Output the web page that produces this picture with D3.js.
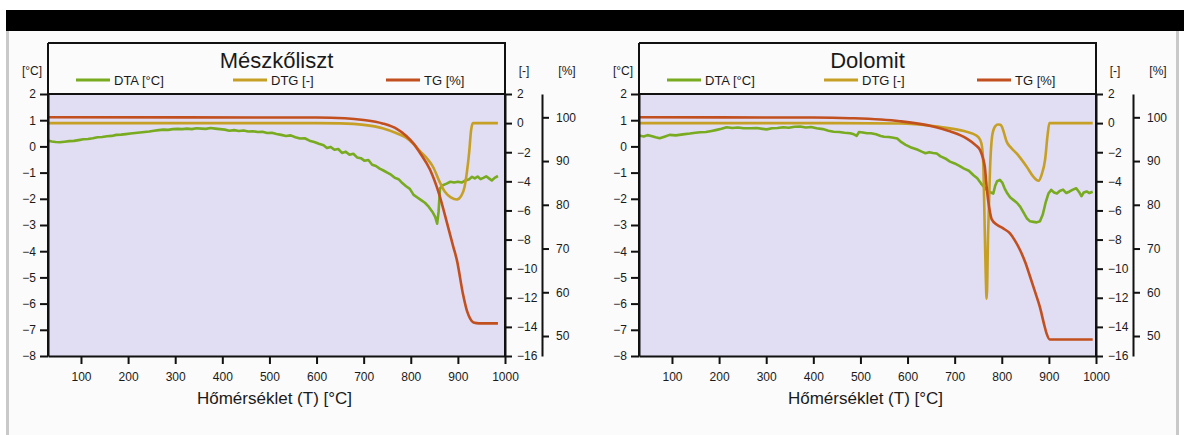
<!DOCTYPE html>
<html><head><meta charset="utf-8">
<script src="https://cdn.jsdelivr.net/npm/d3@7"></script>
<style>
html,body{margin:0;padding:0;background:#fff;}
text{font-family:"Liberation Sans",Arial,sans-serif;fill:#1a1a1a;}
</style></head>
<body><svg id="c" width="1184" height="435"></svg>
<script>
// ---------------- data ----------------
const panelTitles = ["Mészkőliszt", "Dolomit"];
const xTicks = [100,200,300,400,500,600,700,800,900,1000];
const dtaTicks = [-8,-7,-6,-5,-4,-3,-2,-1,0,1,2];
const dtgTicks = [-16,-14,-12,-10,-8,-6,-4,-2,0,2];
const tgTicks = [50,60,70,80,90,100];
const legendLabels = ["DTA [°C]", "DTG [-]", "TG [%]"];
const unitLabels = ["[°C]", "[-]", "[%]"];
const xTitle = "Hőmérséklet (T) [°C]";

// Mészkőliszt
const limeDTA = [[30,0.22],[38,0.19],[46,0.17],[55,0.16],[65,0.18],[75,0.2],[85,0.21],[95,0.24],[105,0.27],[115,0.28],[125,0.31],[135,0.35],[145,0.36],[155,0.39],[165,0.4],[175,0.44],[185,0.45],[195,0.47],[205,0.49],[215,0.51],[225,0.53],[235,0.55],[245,0.57],[255,0.6],[265,0.62],[275,0.64],[285,0.63],[295,0.66],[305,0.67],[315,0.66],[325,0.68],[335,0.66],[345,0.69],[355,0.68],[365,0.67],[375,0.7],[385,0.68],[395,0.66],[405,0.64],[415,0.6],[425,0.62],[435,0.59],[445,0.61],[455,0.57],[465,0.58],[475,0.55],[485,0.56],[495,0.51],[505,0.52],[515,0.47],[525,0.44],[535,0.4],[545,0.42],[555,0.35],[565,0.3],[575,0.31],[585,0.22],[595,0.17],[605,0.1],[615,0.04],[622,-0.06],[630,-0.02],[638,-0.13],[646,-0.1],[654,-0.25],[662,-0.2],[670,-0.32],[678,-0.28],[686,-0.42],[694,-0.45],[702,-0.55],[710,-0.52],[718,-0.7],[726,-0.75],[734,-0.85],[742,-0.92],[750,-1.0],[758,-1.08],[766,-1.2],[774,-1.25],[782,-1.4],[790,-1.52],[798,-1.62],[806,-1.85],[814,-1.95],[822,-2.05],[830,-2.15],[838,-2.3],[846,-2.5],[852,-2.7],[856,-2.95],[859,-2.5],[862,-1.6],[868,-1.48],[876,-1.42],[884,-1.35],[892,-1.38],[900,-1.35],[908,-1.38],[916,-1.3],[924,-1.25],[930,-1.16],[936,-1.22],[942,-1.15],[948,-1.25],[954,-1.2],[960,-1.14],[966,-1.22],[972,-1.3],[978,-1.2],[985,-1.13]];
const limeDTG = [[30,0],[600,0],[650,-0.02],[700,-0.12],[740,-0.35],[770,-0.7],[790,-1.0],[805,-1.4],[820,-1.95],[835,-2.45],[848,-3.05],[860,-3.95],[872,-4.7],[885,-5.1],[898,-5.25],[907,-5.0],[914,-4.4],[919,-3.4],[924,-2.0],[928,-0.5],[932,0],[985,0]];
const limeTG = [[30,100],[600,99.95],[660,99.8],[700,99.4],[740,98.6],[771,97.3],[790,95.8],[805,94.1],[820,91.8],[841,88],[860,82.5],[877,75.8],[890,70.5],[898,67.3],[911,59.5],[920,55.5],[926,54.0],[933,53.1],[945,52.9],[985,52.9]];

// Dolomit
const dolDTA = [[30,0.42],[40,0.38],[48,0.43],[56,0.4],[65,0.35],[74,0.31],[84,0.37],[95,0.44],[108,0.42],[123,0.46],[138,0.49],[150,0.52],[160,0.54],[172,0.55],[184,0.59],[195,0.63],[205,0.67],[216,0.73],[228,0.7],[240,0.72],[252,0.69],[266,0.69],[280,0.7],[292,0.67],[301,0.65],[312,0.69],[324,0.7],[336,0.73],[348,0.71],[360,0.75],[372,0.76],[384,0.72],[395,0.74],[407,0.69],[420,0.66],[432,0.6],[443,0.56],[455,0.55],[466,0.52],[478,0.5],[486,0.46],[492,0.4],[497,0.55],[505,0.53],[514,0.5],[522,0.5],[533,0.46],[543,0.4],[550,0.37],[560,0.36],[570,0.33],[578,0.3],[587,0.16],[596,0.06],[606,-0.03],[614,-0.08],[622,-0.13],[630,-0.2],[638,-0.26],[646,-0.22],[654,-0.25],[662,-0.27],[670,-0.38],[680,-0.46],[690,-0.58],[700,-0.65],[710,-0.74],[720,-0.85],[730,-0.93],[740,-1.1],[748,-1.22],[756,-1.42],[764,-1.58],[770,-1.7],[777,-1.76],[782,-1.8],[786,-1.5],[790,-1.33],[796,-1.28],[801,-1.38],[806,-1.6],[812,-1.8],[818,-1.95],[825,-2.05],[832,-2.15],[839,-2.3],[846,-2.52],[853,-2.74],[860,-2.86],[867,-2.88],[874,-2.9],[881,-2.86],[887,-2.6],[893,-2.15],[899,-1.8],[905,-1.66],[911,-1.76],[917,-1.8],[923,-1.7],[930,-1.65],[937,-1.78],[944,-1.72],[951,-1.65],[958,-1.6],[964,-1.74],[969,-1.9],[974,-1.76],[980,-1.72],[986,-1.78],[993,-1.73]];
const dolDTG = [[30,0],[450,0],[584,-0.03],[654,-0.2],[690,-0.36],[725,-0.59],[746,-0.85],[754,-1.15],[758,-1.6],[761,-3.0],[764,-7.6],[768,-12.06],[771,-7.6],[775,-3.2],[780,-0.8],[786,-0.22],[792,-0.1],[797,-0.12],[801,-0.3],[805,-0.7],[810,-1.25],[820,-1.7],[832,-2.1],[853,-3.0],[867,-3.68],[878,-3.96],[885,-3.5],[892,-2.5],[897,-0.9],[901,0],[993,0]];
const dolTG = [[30,100],[400,99.95],[478,99.8],[584,99.1],[654,97.9],[690,96.8],[725,95.2],[745,93.6],[754,92.5],[760,90.7],[764,88.7],[768,84],[771,81.1],[775,78.3],[779,76.6],[789,75.5],[803,74.6],[817,73.5],[828,71.8],[839,69.6],[850,66.8],[860,63.6],[870,60.3],[881,56.6],[890,52.6],[895,50.6],[902,49.2],[993,49.2]];

const panelData = [
  {dta: limeDTA, dtg: limeDTG, tg: limeTG},
  {dta: dolDTA, dtg: dolDTG, tg: dolTG}
];

// ---------------- drawing ----------------
const svg = d3.select("#c");
const colDTA = "#78ab1f", colDTG = "#c6a024", colTG = "#c2501f";
svg.append("rect").attr("x",0).attr("y",0).attr("width",1184).attr("height",435).attr("fill","#ffffff");
svg.append("rect").attr("x",9).attr("y",31).attr("width",1167).attr("height",404).attr("fill","#fbfbfb");
svg.append("rect").attr("x",6).attr("y",10).attr("width",1178).attr("height",21).attr("fill","#000");
svg.append("rect").attr("x",6).attr("y",31).attr("width",3).attr("height",404).attr("fill","#c9c9c9");
svg.append("rect").attr("x",1176).attr("y",31).attr("width",3).attr("height",404).attr("fill","#c9c9c9");

const plotTop = 94, plotBot = 356, boxTop = 43;
const offsets = [0, 591];

panelTitles.forEach((title, i) => {
  const L = 48 + offsets[i], R = 505 + offsets[i], TGx = 542 + offsets[i];
  const g = svg.append("g");
  const x = d3.scaleLinear().domain([30, 1000]).range([L, R]);
  const yDTA = d3.scaleLinear().domain([-8, 2]).range([plotBot, plotTop]);
  const yDTG = d3.scaleLinear().domain([-16, 2]).range([plotBot, plotTop]);
  const yTG = d3.scaleLinear().domain([45.43, 105.33]).range([plotBot, plotTop]);

  g.append("rect").attr("x",L).attr("y",plotTop).attr("width",R-L).attr("height",plotBot-plotTop).attr("fill","#e1ddf3");

  const d = panelData[i];
  const lineFn = (ys, curve) => d3.line().x(p => x(p[0])).y(p => ys(p[1])).curve(curve);
  g.append("path").datum(d.dta).attr("d", lineFn(yDTA, d3.curveLinear)).attr("fill","none").attr("stroke",colDTA).attr("stroke-width",2.6).attr("stroke-linejoin","round");
  g.append("path").datum(d.dtg).attr("d", lineFn(yDTG, d3.curveMonotoneX)).attr("fill","none").attr("stroke",colDTG).attr("stroke-width",2.6).attr("stroke-linejoin","round");
  g.append("path").datum(d.tg).attr("d", lineFn(yTG, d3.curveMonotoneX)).attr("fill","none").attr("stroke",colTG).attr("stroke-width",2.6).attr("stroke-linejoin","round");

  // box frame
  g.append("path").attr("d", `M${L},${boxTop}H${R}V${plotBot}M${L},${boxTop}V${plotBot}M${L},${plotTop}H${R}`)
    .attr("fill","none").attr("stroke","#111").attr("stroke-width",2);

  const styleAxis = sel => {
    sel.selectAll("path.domain").attr("stroke","#111").attr("stroke-width",2);
    sel.selectAll(".tick line").attr("stroke","#111").attr("stroke-width",2);
    sel.selectAll(".tick text").attr("font-family","Liberation Sans, Arial, sans-serif").attr("font-size",12).attr("fill","#222");
  };

  const ax = g.append("g").attr("transform",`translate(0,${plotBot})`)
    .call(d3.axisBottom(x).tickValues(xTicks).tickSize(8).tickSizeOuter(0).tickPadding(8).tickFormat(d3.format("d")));
  styleAxis(ax);
  const al = g.append("g").attr("transform",`translate(${L},0)`)
    .call(d3.axisLeft(yDTA).tickValues(dtaTicks).tickSize(8).tickSizeOuter(0).tickPadding(4).tickFormat(d3.format("d")));
  styleAxis(al);
  const ar = g.append("g").attr("transform",`translate(${R},0)`)
    .call(d3.axisRight(yDTG).tickValues(dtgTicks).tickSize(7).tickSizeOuter(0).tickPadding(5).tickFormat(d3.format("d")));
  styleAxis(ar);
  const at = g.append("g").attr("transform",`translate(${TGx},0)`)
    .call(d3.axisRight(yTG).tickValues(tgTicks).tickSize(7).tickSizeOuter(0).tickPadding(7).tickFormat(d3.format("d")));
  styleAxis(at);

  // title
  g.append("text").attr("x",(L+R)/2).attr("y",68).attr("text-anchor","middle").attr("font-size",22).text(title);
  // units
  g.append("text").attr("x",L-16).attr("y",75).attr("text-anchor","middle").attr("font-size",12).text(unitLabels[0]);
  g.append("text").attr("x",R+19).attr("y",75).attr("text-anchor","middle").attr("font-size",12).text(unitLabels[1]);
  g.append("text").attr("x",TGx+25).attr("y",75).attr("text-anchor","middle").attr("font-size",12).text(unitLabels[2]);
  // legend
  const legCols = [colDTA, colDTG, colTG];
  const legX = [28, 185, 338];
  legendLabels.forEach((lab, k) => {
    g.append("line").attr("x1",L+legX[k]).attr("x2",L+legX[k]+34).attr("y1",80).attr("y2",80)
      .attr("stroke",legCols[k]).attr("stroke-width",3);
    g.append("text").attr("x",L+legX[k]+38).attr("y",85).attr("font-size",13).text(lab);
  });
  // x title
  g.append("text").attr("x",(L+R)/2 - 2).attr("y",404).attr("text-anchor","middle").attr("font-size",17).text(xTitle);
});
</script></body></html>
